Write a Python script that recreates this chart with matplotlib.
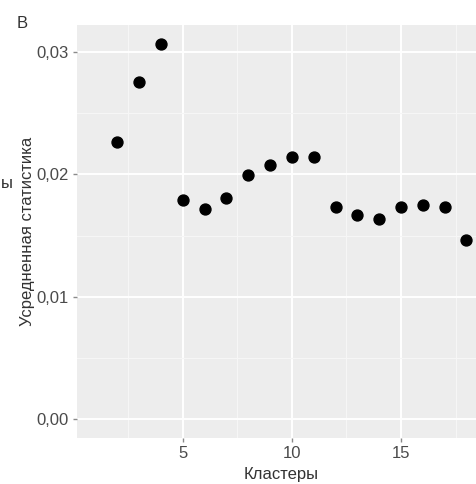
import matplotlib.pyplot as plt
from matplotlib.ticker import FixedLocator, FuncFormatter

plt.rcParams["font.family"] = ["Liberation Sans", "DejaVu Sans"]

# cluster count vs averaged statistic
clusters = [2, 3, 4, 5, 6, 7, 8, 9, 10, 11, 12, 13, 14, 15, 16, 17, 18]
stat = [0.02264, 0.02753, 0.03062, 0.01788, 0.01714, 0.01806, 0.01996, 0.02077,
        0.02146, 0.02146, 0.01736, 0.01671, 0.01633, 0.01736, 0.01752, 0.01733, 0.01465]

x_ticks = [5, 10, 15]
x_minor = [2.5, 7.5, 12.5, 17.5]
y_ticks = [0.00, 0.01, 0.02, 0.03]
y_minor = [0.005, 0.015, 0.025]

W, H = 477, 484
fig = plt.figure(figsize=(W / 100, H / 100), dpi=100)
fig.patch.set_facecolor("white")

# panel goes past the right edge, like the cropped original
ax = fig.add_axes([77 / W, (H - 438) / H, (485 - 77) / W, (438 - 25) / H])
ax.set_facecolor("#ededed")
for s in ax.spines.values():
    s.set_visible(False)

ax.set_xlim(0.15, 18.85)
ax.set_ylim(-0.00153, 0.0322)

ax.xaxis.set_major_locator(FixedLocator(x_ticks))
ax.xaxis.set_minor_locator(FixedLocator(x_minor))
ax.yaxis.set_major_locator(FixedLocator(y_ticks))
ax.yaxis.set_minor_locator(FixedLocator(y_minor))
ax.yaxis.set_major_formatter(FuncFormatter(lambda v, p: f"{v:.2f}".replace(".", ",")))

ax.grid(which="major", color="white", linewidth=1.4)
ax.grid(which="minor", color="#f6f6f6", linewidth=0.8)
ax.set_axisbelow(True)

ax.tick_params(which="major", length=3, width=1, color="#8a8a8a",
               labelsize=12, labelcolor="#4a4a4a", pad=3)
ax.tick_params(which="minor", length=0)

ax.scatter(clusters, stat, s=62, color="black", zorder=3, clip_on=False)

ax.set_xlabel("Кластеры", fontsize=12, color="#333333", labelpad=4)
ax.set_ylabel("Усредненная статистика", fontsize=12, color="#333333", labelpad=1)

fig.text(22 / W, 1 - 23 / H, "B", fontsize=12, color="#333333", ha="center", va="center")
fig.text(7 / W, 1 - 183 / H, "ы", fontsize=12, color="#333333", ha="center", va="center")

fig.savefig("out.png", dpi=100)
